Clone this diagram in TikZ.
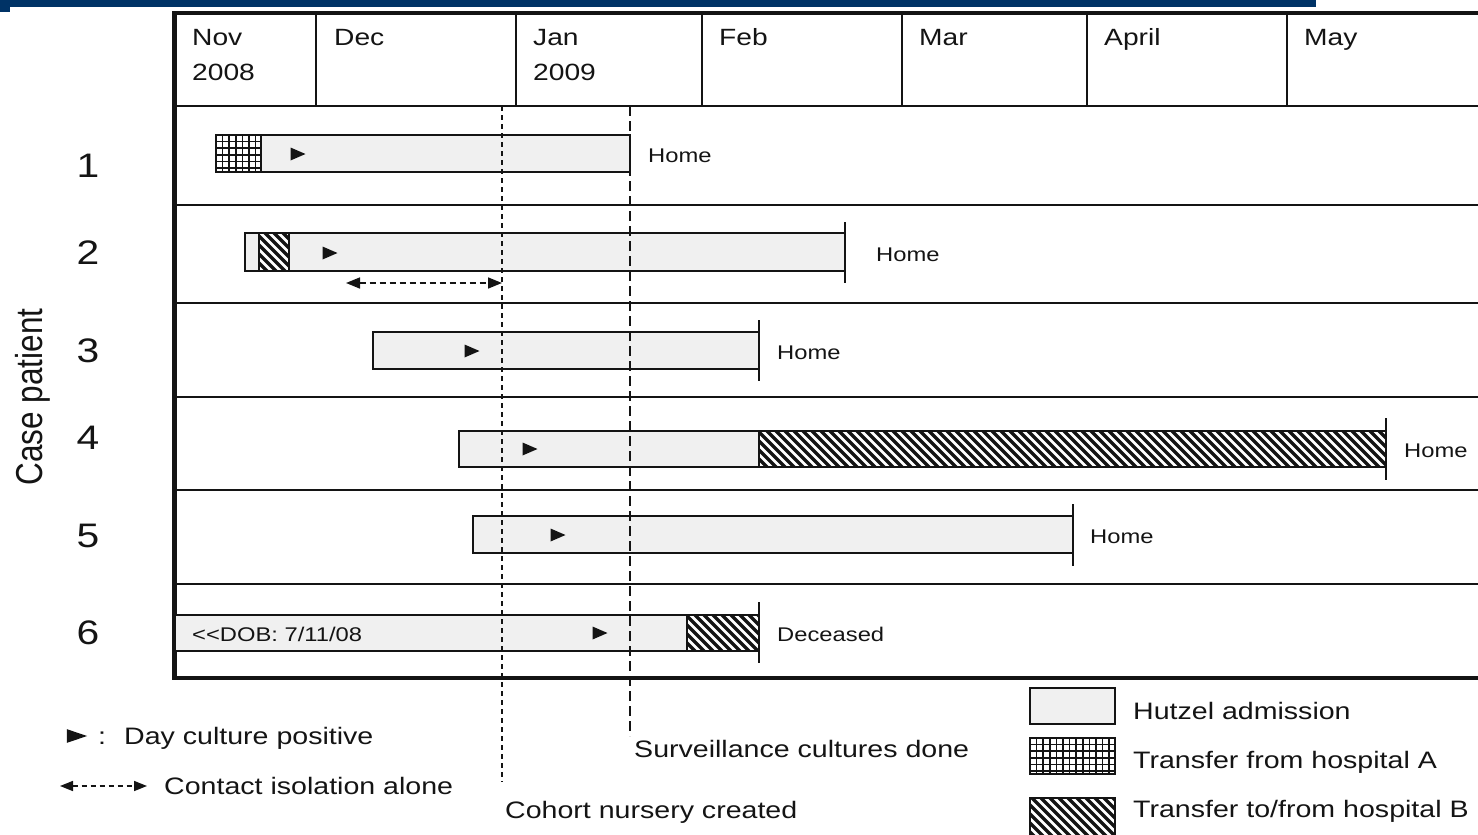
\documentclass[tikz,border=0pt]{standalone}
\usepackage{fontspec}
\setmainfont[FakeStretch=1.2, Ligatures=TeXOff]{Liberation Sans}
\newfontfamily\sidefont[FakeStretch=0.84]{Liberation Sans}
\usetikzlibrary{arrows.meta, positioning}

\definecolor{navy}{RGB}{0,51,102}
\definecolor{stay}{RGB}{240,240,240}
\definecolor{ink}{RGB}{20,20,20}

\tikzset{
  hutzel/.style={draw=ink, line width=1.5pt, fill=stay},
  boxline/.style={draw=ink, line width=1.5pt},
  frame/.style={draw=ink, line width=4.2pt},
  rule/.style={draw=ink, line width=2.2pt},
  endtick/.style={draw=ink, line width=1.8pt},
  cohort/.style={draw=ink, line width=2pt, dash pattern=on 5pt off 4pt},
  survey/.style={draw=ink, line width=1.8pt, dash pattern=on 10pt off 5pt},
  isolation/.style={draw=ink, line width=1.6pt, dash pattern=on 6pt off 4pt, {Triangle[length=14pt,width=11pt]}-{Triangle[length=14pt,width=11pt]}},
  keyiso/.style={draw=ink, line width=1.6pt, dash pattern=on 5pt off 4pt, {Triangle[length=13pt,width=10pt]}-{Triangle[length=13pt,width=10pt]}},
  month/.style={anchor=base west, inner sep=0pt, text=ink, font=\fontsize{23.5}{28}\selectfont},
  case/.style={anchor=base, inner sep=0pt, text=ink, font=\fontsize{34}{40}\selectfont},
  stop/.style={anchor=base west, inner sep=0pt, text=ink, font=\fontsize{19.8}{24}\selectfont},
  key/.style={anchor=base west, inner sep=0pt, text=ink, font=\fontsize{23.8}{28}\selectfont},
  culture/.pic={\fill[ink] (-7.5,-6.5) -- (7.5,0) -- (-7.5,6.5) -- cycle;}
}

% hospital A: square grid, hospital B: diagonal stripes (x1,y1,x2,y2)
\newcommand{\hospA}[4]{%
  \fill[white] (#1,#2) rectangle (#3,#4);
  \begin{scope}
    \clip (#1,#2) rectangle (#3,#4);
    \foreach \k in {1,...,16} {
      \draw[ink, line width=1.7pt] ({#1+\k*6.6},#2) -- ({#1+\k*6.6},#4);
      \draw[ink, line width=1.7pt] (#1,{#2+\k*6.6}) -- (#3,{#2+\k*6.6});
    }
  \end{scope}
  \draw[boxline] (#1,#2) rectangle (#3,#4);
}
\newcommand{\hospB}[4]{%
  \fill[white] (#1,#2) rectangle (#3,#4);
  \begin{scope}
    \clip (#1,#2) rectangle (#3,#4);
    \pgfmathtruncatemacro{\nstripe}{(#3-#1+#4-#2)/9+2}
    \foreach \k in {0,...,\nstripe}
      \draw[ink, line width=3.3pt] ({#1-(#4-#2)+\k*9-6},#2-5) -- ++({#4-#2+10},{#4-#2+10});
  \end{scope}
  \draw[boxline] (#1,#2) rectangle (#3,#4);
}

\begin{document}
\begin{tikzpicture}[x=1pt, y=-1pt]
\path[use as bounding box, clip] (0,0) rectangle (1478,835);

% title band
\fill[navy] (0,0) rectangle (1316,7);
\fill[navy] (0,7) rectangle (10,12);

% table
\foreach \y in {106,205,303,397,490,584}
    \draw[rule] (174,\y) -- (1478,\y);
\foreach \x in {316,516,702,902,1087,1287}
    \draw[rule] (\x,13) -- (\x,106);
\draw[frame] (172,13) -- (1478,13);
\draw[frame] (172,678) -- (1478,678);
\draw[frame] (174.5,11) -- (174.5,680);

\foreach \x/\m in {192/Nov, 334/Dec, 533/Jan, 719/Feb, 919/Mar, 1104/April, 1304/May}
    \node[month] (m-\m) at (\x,45) {\m};
\node[month] (y2008) at (192,80) {2008};
\node[month] (y2009) at (533,80) {2009};

\foreach \n/\y in {1/177, 2/264, 3/362, 4/449, 5/547, 6/644}
    \node[case] (case\n) at (88,\y) {\n};
\node[inner sep=0pt, rotate=90, text=ink, font=\sidefont\fontsize{37.5}{44}\selectfont] (casep) at (33,397) {Case patient};

% stays
\draw[hutzel] (216,135) rectangle (630,172);
\hospA{216}{135}{261}{172}
\pic at (298,154) {culture};
\node[stop] (home1) at (648,162) {Home};

\draw[hutzel] (245,233) rectangle (845,271);
\hospB{259}{233}{289}{271}
\draw[endtick] (845,222) -- (845,283);
\pic at (330,253) {culture};
\node[stop] (home2) at (876,261) {Home};
\coordinate (iso-a) at (346,283);
\coordinate (iso-b) at (502,283);
\draw[isolation] (iso-a) -- (iso-b);

\draw[hutzel] (373,332) rectangle (759,369);
\draw[endtick] (759,320) -- (759,381);
\pic at (472,351) {culture};
\node[stop] (home3) at (777,359) {Home};

\draw[hutzel] (459,431) rectangle (759,467);
\hospB{759}{431}{1386}{467}
\draw[endtick] (1386,418) -- (1386,480);
\pic at (530,449) {culture};
\node[stop] (home4) at (1404,457) {Home};

\draw[hutzel] (473,516) rectangle (1073,553);
\draw[endtick] (1073,504) -- (1073,566);
\pic at (558,535) {culture};
\node[stop] (home5) at (1090,543) {Home};

\draw[hutzel] (175,615) rectangle (687,651);
\hospB{687}{615}{759}{651}
\draw[endtick] (759,602) -- (759,663);
\pic at (600,633) {culture};
\node[stop] (dob) at (192,641) {<<DOB: 7/11/08};
\node[stop] (dead) at (777,641) {Deceased};

% events
\coordinate (cohort-top) at (502,106);
\coordinate (cohort-end) at (502,782);
\draw[cohort] (cohort-top) -- (cohort-end);
\coordinate (survey-top) at (630,106);
\coordinate (survey-end) at (630,736);
\draw[survey] (survey-top) -- (survey-end);
\node[key] (survey) at (634,757) {Surveillance cultures done};
\node[key] (cohort) at (505,818) {Cohort nursery created};

% legend
\pic[xscale=1.35, yscale=1.05] at (77,736) {culture};
\node[key] (colon) at (98,744.5) {:};
\node[key] (daypos) at (124,744.5) {Day culture positive};
\coordinate (key-a) at (60,786);
\coordinate (key-b) at (147,786);
\draw[keyiso] (key-a) -- (key-b);
\node[key] (contact) at (164,794.5) {Contact isolation alone};

\draw[hutzel] (1030,688) rectangle (1115,724);
\node[key] (khutzel) at (1133,719.5) {Hutzel admission};
\hospA{1030}{738}{1115}{774}
\node[key] (khospa) at (1133,768.5) {Transfer from hospital A};
\hospB{1030}{798}{1115}{840}
\node[key] (khospb) at (1133,817.5) {Transfer to/from hospital B};
\end{tikzpicture}
\end{document}
